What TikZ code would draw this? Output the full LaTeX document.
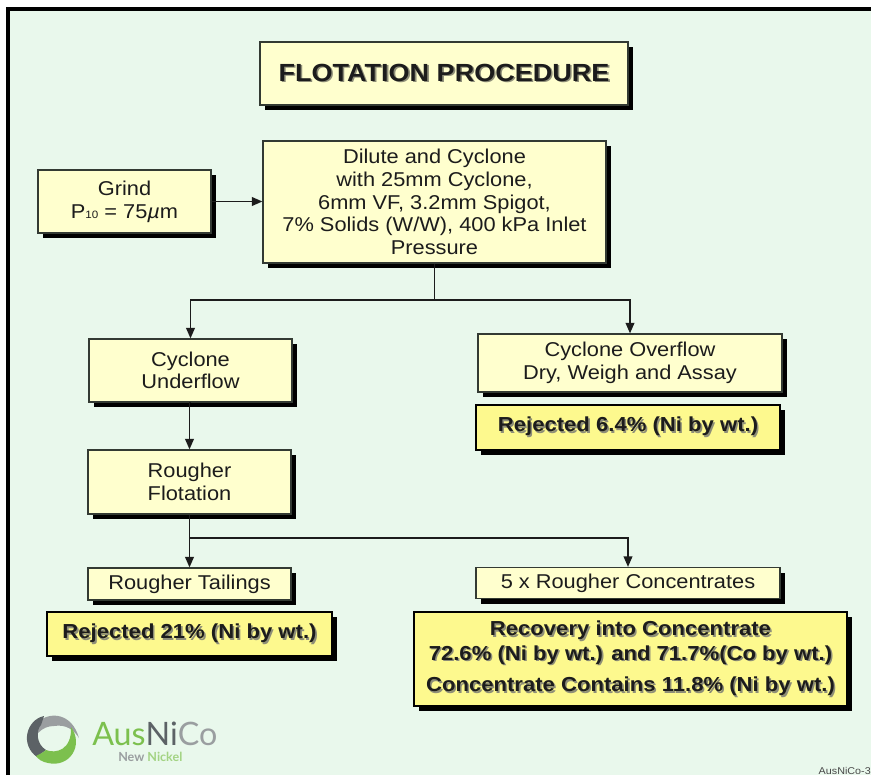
\documentclass[tikz,border=0pt]{standalone}
\usepackage{fontspec}
\setmainfont[FakeStretch=1.09]{Liberation Sans}
\newfontfamily\logofont{Lato}
\usetikzlibrary{arrows.meta,shadows}
\definecolor{bgc}{HTML}{E9F8EC}
\definecolor{paleY}{HTML}{FFFFCE}
\definecolor{brightY}{HTML}{FDF98E}
\definecolor{inkc}{HTML}{1C1C1C}
\definecolor{edgec}{HTML}{333A33}
\definecolor{shadeg}{HTML}{8E8E78}
\definecolor{lgreen}{HTML}{7CC04E}
\definecolor{ldark}{HTML}{5C6266}
\definecolor{llight}{HTML}{9A9EA0}
\newcommand{\shad}[1]{\leavevmode\rlap{\kern1.2pt\raisebox{-1.2pt}{\textcolor{shadeg}{#1}}}#1}
\tikzset{
  x=0.75pt,y=-0.75pt,
  basebox/.style={draw=edgec,line width=0.8pt,inner sep=0pt,align=center,text=inkc,
    general shadow={fill=black,shadow xshift=3.8pt,shadow yshift=-3.8pt}},
  pale/.style={basebox,fill=paleY,font=\fontsize{15}{17}\selectfont},
  bright/.style={basebox,fill=brightY,draw=black,font=\bfseries\fontsize{15.2}{18.5}\selectfont},
  titlebox/.style={basebox,fill=paleY,font=\bfseries\fontsize{18.6}{22}\selectfont},
  wire/.style={draw=inkc,line width=1.4pt},
  arrowed/.style={wire,-{Triangle[length=8pt,width=6.5pt]}}
}
\begin{document}
\begin{tikzpicture}
\useasboundingbox (0,0) rectangle (871,777);
\fill[white] (0,0) rectangle (871,777);
\fill[bgc] (8,9) rectangle (871,775);
\draw[black,line width=2.4pt] (8,775) -- (8,9) -- (871,9);

\node[titlebox,minimum width=276pt,minimum height=47.25pt] (title) at (444,73.5) {\shad{FLOTATION PROCEDURE}};
\node[pale,minimum width=257.25pt,minimum height=91.5pt] (main) at (434.5,202) {Dilute and Cyclone\\with 25mm Cyclone,\\6mm VF, 3.2mm Spigot,\\7\% Solids (W/W), 400 kPa Inlet\\Pressure};
\node[pale,minimum width=129.75pt,minimum height=47.25pt] (grind) at (124.5,201.5) {Grind\\P{\footnotesize 10} = 75\textit{µ}m};
\node[pale,minimum width=152.25pt,minimum height=47.25pt] (under) at (190.5,370.5) {Cyclone\\Underflow};
\node[pale,minimum width=228pt,minimum height=43.5pt] (over) at (630,363) {Cyclone Overflow\\Dry, Weigh and Assay};
\node[bright,minimum width=228pt,minimum height=33.75pt] (rej6) at (628,427.5) {\shad{Rejected 6.4\% (Ni by wt.)}};
\node[pale,minimum width=152.25pt,minimum height=48pt] (rough) at (189.5,482) {Rougher\\Flotation};
\node[pale,minimum width=152.25pt,minimum height=24pt] (tail) at (189.5,584) {Rougher Tailings};
\node[pale,minimum width=228pt,minimum height=23.25pt] (conc) at (628,583) {5 x Rougher Concentrates};
\node[bright,minimum width=213.75pt,minimum height=33pt] (rej21) at (189.5,634) {\shad{Rejected 21\% (Ni by wt.)}};
\node[bright,minimum width=324.75pt,minimum height=70.5pt] (rec) at (630.5,659) {\shad{Recovery into Concentrate}\\\shad{72.6\% (Ni by wt.) and 71.7\%(Co by wt.)}\\[5pt]\shad{Concentrate Contains 11.8\% (Ni by wt.)}};

\coordinate (split) at (main.south |- 0,300);
\coordinate (branch) at (rough.south |- 0,538);
\draw[arrowed] (grind.east) -- (grind.east -| main.west);
\draw[wire] (main.south) -- (split);
\draw[arrowed] (split) -| (under.north);
\draw[arrowed] (split) -| (over.north);
\draw[arrowed] (under.south) -- (under.south -| rough.north) -- (rough.north);
\draw[arrowed] (rough.south) -- (tail.north);
\draw[arrowed] (branch) -| (conc.north);

% logo
\fill[llight] (38,722) .. controls (50,711) and (72,713) .. (79,738) .. controls (74,730) and (66,724) .. (54,726) .. controls (48,726) and (43,728) .. (38,733) -- cycle;
\fill[ldark] (44,716) .. controls (26,720) and (20,745) .. (37,757) .. controls (42,753) and (43,752) .. (46,750) .. controls (36,744) and (36,730) .. (41,725) .. controls (42,722) and (43,719) .. (44,716) -- cycle;
\fill[lgreen] (71,727) .. controls (84,745) and (70,768) .. (48,763) .. controls (42,762) and (38,759) .. (36,756) .. controls (40,754) and (44,752) .. (46,750) .. controls (56,754) and (72,750) .. (71,727) -- cycle;
\node[inner sep=0pt,anchor=base west,font=\logofont\fontsize{24.2}{25}\selectfont,text=lgreen] (logotext) at (92,745) {Aus\textcolor{ldark}{Ni}\textcolor{llight}{Co}};
\node[inner sep=0pt,anchor=base west,font=\logofont\bfseries\fontsize{9.4}{10}\selectfont,text=llight] (logotag) at (118,761) {New \textcolor{lgreen!70}{Nickel}};
\node[inner sep=0pt,anchor=base east,font=\fontsize{7.4}{8}\selectfont,text=inkc!80] (ref) at (871,774) {AusNiCo-3};
\end{tikzpicture}
\end{document}
